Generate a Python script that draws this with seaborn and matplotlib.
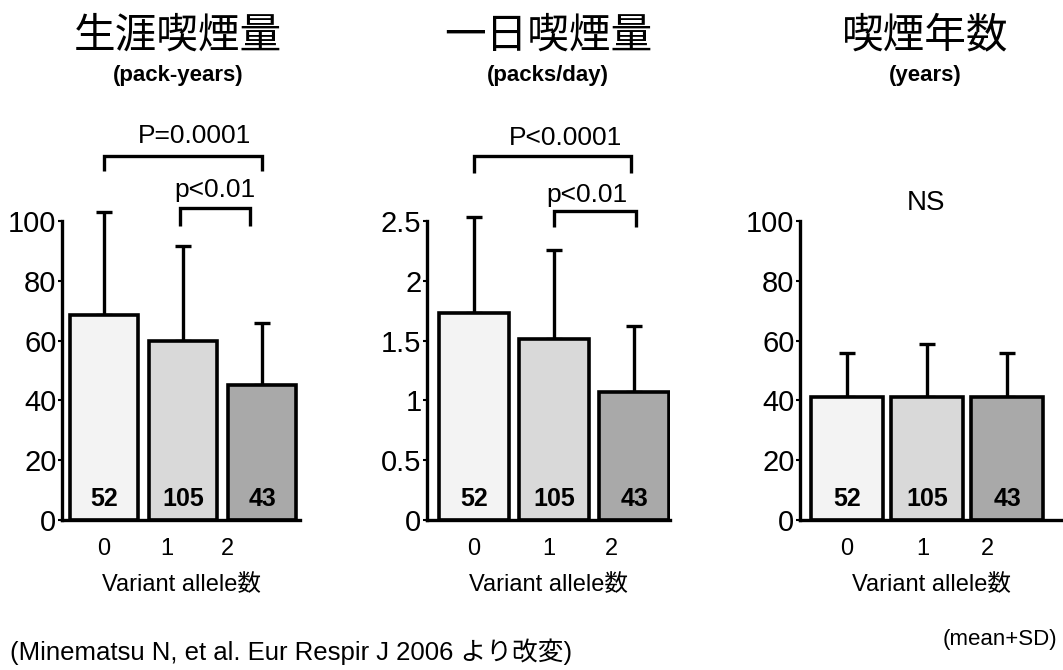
import numpy as np
import pandas as pd
import seaborn as sns
import matplotlib.pyplot as plt
from matplotlib.transforms import blended_transform_factory

# data
alleles = ["0", "1", "2"]
n_subjects = [52, 105, 43]

packyears_mean = [68.5, 59.7, 45.0]
packyears_sd = [34.5, 31.9, 20.8]

packsday_mean = [1.73, 1.51, 1.07]
packsday_sd = [0.80, 0.75, 0.55]

years_mean = [41.0, 41.0, 41.0]
years_sd = [15.0, 18.0, 15.0]

titles = ["生涯喫煙量", "一日喫煙量", "喫煙年数"]
units = ["(pack-years)", "(packs/day)", "(years)"]
xlabel = "Variant allele数"
source_note = "(Minematsu N, et al. Eur Respir J 2006 より改変)"
stat_note = "(mean+SD)"

bar_colors = ["#f3f3f3", "#d9d9d9", "#a9a9a9"]

sns.set_style("white")
plt.rcParams["font.family"] = ["Liberation Sans", "Noto Sans CJK JP"]
plt.rcParams.update({"text.color": "black", "axes.labelcolor": "black",
                     "xtick.color": "black", "ytick.color": "black"})
CJK = ["Noto Sans CJK JP", "Liberation Sans"]

W, H = 1063, 670
fig = plt.figure(figsize=(W / 100, H / 100), dpi=100)


def px_axes(left, right, bottom=520, top=221):
    return fig.add_axes([left / W, 1 - bottom / H, (right - left) / W, (bottom - top) / H])


def draw_bracket(ax, x0, x1, y, leg):
    ax.plot([x0, x0, x1, x1], [y - leg, y, y, y - leg], color="black", lw=2.4,
            clip_on=False, solid_capstyle="butt", solid_joinstyle="miter")


def panel(ax, means, sds, ymax, yticks, ticklabels, xlim, width, tick_pos):
    df = pd.DataFrame({"allele": alleles, "value": means})
    sns.barplot(data=df, x="allele", y="value", hue="allele", palette=bar_colors,
                width=width, edgecolor="black", linewidth=2.6, legend=False,
                ax=ax, zorder=2)
    ax.errorbar(np.arange(len(means)), means, yerr=[np.zeros(len(sds)), sds],
                fmt="none", ecolor="black", elinewidth=2.4, capsize=6, capthick=2.4,
                clip_on=False, zorder=1)
    trans = blended_transform_factory(ax.transData, ax.transAxes)
    for i, n in enumerate(n_subjects):
        ax.text(i, 0.07, str(n), transform=trans, ha="center", va="center",
                fontsize=18, fontweight="bold", zorder=3)
    ax.set_xlim(*xlim)
    ax.set_ylim(0, ymax)
    ax.set_yticks(yticks)
    ax.set_yticklabels(ticklabels, fontsize=21)
    ax.set_xticks(tick_pos)
    ax.set_xticklabels(alleles, fontsize=17)
    ax.tick_params(axis="x", length=0, pad=13)
    ax.tick_params(axis="y", length=3, width=1.5, pad=1, direction="out", left=True)
    ax.set_xlabel(xlabel, fontsize=17, labelpad=10)
    ax.set_ylabel("")
    for s in ["top", "right"]:
        ax.spines[s].set_visible(False)
    for s in ["left", "bottom"]:
        ax.spines[s].set_linewidth(2.4)
        ax.spines[s].set_color("black")
    ax.patch.set_alpha(0)


ax1 = px_axes(62, 300)
panel(ax1, packyears_mean, packyears_sd, 100, [0, 20, 40, 60, 80, 100],
      ["0", "20", "40", "60", "80", "100"], (-0.53, 2.48), 0.87, [0, 0.8, 1.56])
draw_bracket(ax1, 0, 2.0, 121.8, 5)
ax1.text(1.15, 128.5, "P=0.0001", ha="center", va="center", fontsize=19)
draw_bracket(ax1, 0.96, 1.85, 104.4, 6)
ax1.text(1.4, 110.3, "p<0.01", ha="center", va="center", fontsize=19)

ax2 = px_axes(427, 670)
panel(ax2, packsday_mean, packsday_sd, 2.5, [0, 0.5, 1, 1.5, 2, 2.5],
      ["0", "0.5", "1", "1.5", "2", "2.5"], (-0.59, 2.45), 0.88, [0, 0.93, 1.72])
draw_bracket(ax2, 0, 1.96, 3.04, 0.14)
ax2.text(1.14, 3.19, "P<0.0001", ha="center", va="center", fontsize=19)
draw_bracket(ax2, 1.0, 2.03, 2.58, 0.13)
ax2.text(1.41, 2.72, "p<0.01", ha="center", va="center", fontsize=19)

ax3 = px_axes(800, 1063)
panel(ax3, years_mean, years_sd, 100, [0, 20, 40, 60, 80, 100],
      ["0", "20", "40", "60", "80", "100"], (-0.59, 2.7), 0.9, [0, 0.95, 1.75])
ax3.text(0.98, 106, "NS", ha="center", va="center", fontsize=20)

for cx, t, u in zip([178, 548, 925], titles, units):
    fig.text(cx / W, 1 - 36 / H, t, ha="center", va="center", fontsize=30, family=CJK)
    fig.text(cx / W, 1 - 75 / H, u, ha="center", va="center", fontsize=16, fontweight="bold")

fig.text(10 / W, 1 - 652 / H, source_note, ha="left", va="center", fontsize=18.5)
fig.text(1057 / W, 1 - 640 / H, stat_note, ha="right", va="center", fontsize=16)

fig.savefig("out.png", dpi=100)
